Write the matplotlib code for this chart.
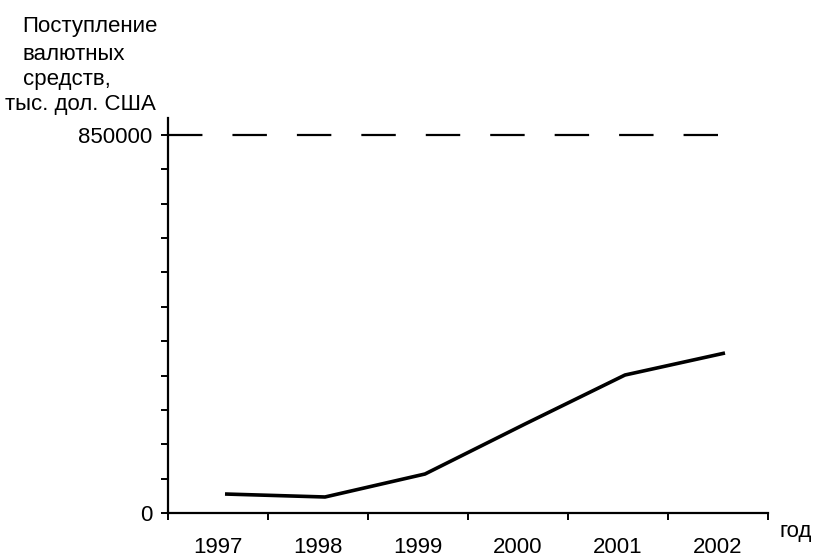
import matplotlib
matplotlib.use("Agg")
import matplotlib.pyplot as plt
import numpy as np

years = ["1997", "1998", "1999", "2000", "2001", "2002"]
values = [42700, 36000, 87700, 200100, 310300, 359800]
limit_value = 850000
y_tick_labels = ["0", "850000"]

plt.rcParams['font.family'] = ['Liberation Sans', 'DejaVu Sans']
FS = 16

fig = plt.figure(figsize=(8.14, 5.59), dpi=100)
ax = fig.add_axes([168/814, 1-513/559, 600/814, 395/559])

xpos = np.arange(len(years)) + 0.57
ax.plot(xpos, values, color='black', lw=2.6, solid_capstyle='butt')
ax.plot([0, 5.55], [limit_value, limit_value], color='black', lw=1.6,
        linestyle=(0, (15.5, 13.5)))

ax.set_xlim(0, 6)
ax.set_ylim(0, limit_value * (395/378))

for s in ['top', 'right']:
    ax.spines[s].set_visible(False)
for s in ['left', 'bottom']:
    ax.spines[s].set_linewidth(1.6)

# x ticks: marks at interval bounds, labels at centers
ax.set_xticks(np.arange(len(years)) + 0.5)
ax.set_xticklabels(years, fontsize=FS)
ax.tick_params(axis='x', which='major', length=0, pad=17.5)
ax.set_xticks(np.arange(0, len(years) + 1), minor=True)
ax.tick_params(axis='x', which='minor', direction='out', length=5, width=1.4)

# y ticks
ax.set_yticks([0, limit_value])
ax.set_yticklabels(y_tick_labels, fontsize=FS)
ax.tick_params(axis='y', which='major', direction='out', length=5, width=1.4, pad=6)
ax.set_yticks(np.arange(0, 12) * limit_value / 11, minor=True)
ax.tick_params(axis='y', which='minor', direction='out', length=5, width=1.4)

# axis titles
lines = [("Поступление", 22, 32), ("валютных", 22, 60), ("средств,", 23, 85),
         ("тыс. дол. США", 5, 110)]
for txt, x, yb in lines:
    fig.text(x/814, 1-yb/559, txt, fontsize=FS, ha='left', va='baseline')
fig.text(812/814, 1-537/559, "год", fontsize=FS, ha='right', va='baseline')

fig.savefig("out.png", dpi=100)
